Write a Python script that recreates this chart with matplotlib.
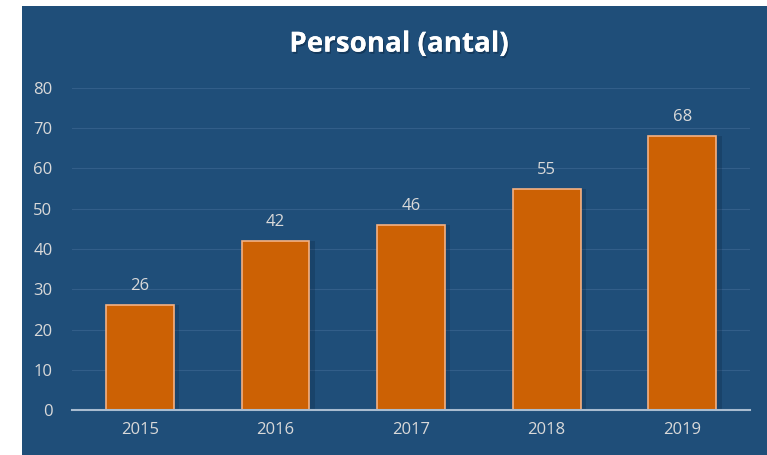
import matplotlib.pyplot as plt
from matplotlib.patches import Rectangle
import matplotlib.patheffects as pe

years = ['2015', '2016', '2017', '2018', '2019']
staff = [26, 42, 46, 55, 68]
y_ticks = [0, 10, 20, 30, 40, 50, 60, 70, 80]

bg = '#1F4E79'
txt = '#D9D9D9'

plt.rcParams['font.family'] = ['Open Sans', 'DejaVu Sans']

fig = plt.figure(figsize=(7.67, 4.55), dpi=100)
fig.patch.set_facecolor('white')
fig.patches.append(Rectangle((22 / 767, 0), 1 - 22 / 767, 449 / 455,
                             transform=fig.transFigure, facecolor=bg,
                             edgecolor='none', zorder=-10))

ax = fig.add_axes([72 / 767, 45 / 455, 678 / 767, 322 / 455])
ax.set_facecolor('none')
ax.set_zorder(1)

x = range(len(years))
# soft shadow behind bars
ax.bar([i + 0.02 for i in x], staff, width=0.54, color='#0B2540', alpha=0.25,
       zorder=2, linewidth=0)
bars = ax.bar(x, staff, width=0.5, color='#CC6104', edgecolor='#F4B183',
              linewidth=1.2, zorder=3)

for b, v in zip(bars, staff):
    ax.annotate(str(v), (b.get_x() + b.get_width() / 2, v), xytext=(0, 8),
                textcoords='offset points', ha='center', va='bottom',
                color=txt, fontsize=12)

ax.set_xlim(-0.5, 4.5)
ax.set_ylim(0, 80)
ax.set_yticks(y_ticks)
ax.set_xticks(list(x))
ax.set_xticklabels(years)
ax.tick_params(colors=txt, labelsize=12, length=0)
ax.tick_params(axis='x', pad=9)
ax.tick_params(axis='y', pad=14)
ax.grid(axis='y', color='#325E89', linewidth=0.8, zorder=1)
ax.set_axisbelow(True)
for s in ['top', 'right', 'left']:
    ax.spines[s].set_visible(False)
ax.spines['bottom'].set_color('#A9BCD0')
ax.spines['bottom'].set_linewidth(1.5)
ax.spines['bottom'].set_zorder(4)

fig.text(0.52, 0.903, 'Personal (antal)', ha='center', va='center',
         color='white', fontsize=20, fontweight='bold',
         path_effects=[pe.withSimplePatchShadow(offset=(1, -1.5), shadow_rgbFace='#0B2540', alpha=0.5),
                       pe.Normal()])

fig.savefig('out.png', dpi=100, facecolor=fig.get_facecolor())
